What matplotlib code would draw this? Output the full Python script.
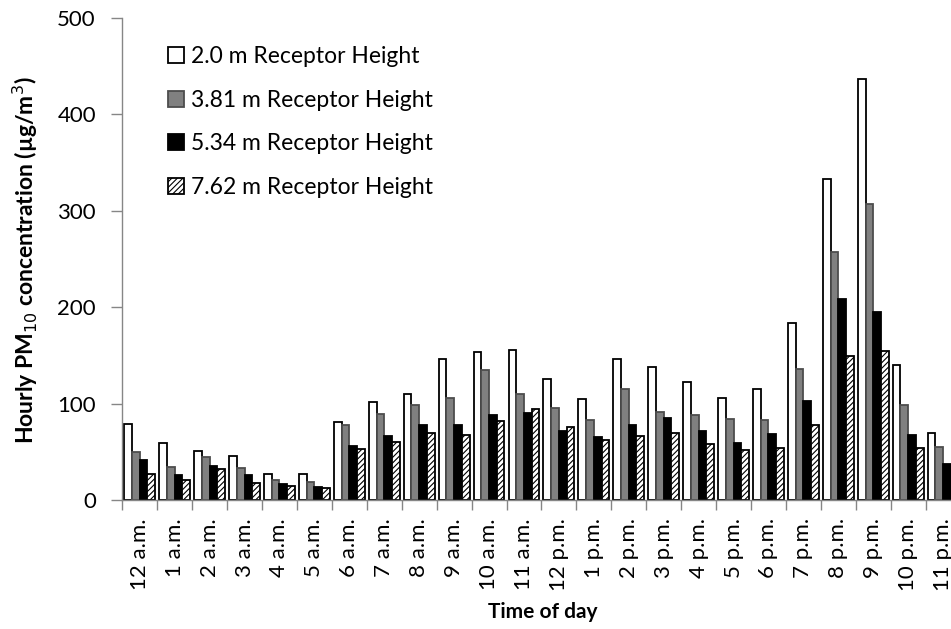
import numpy as np
import matplotlib.pyplot as plt

plt.rcParams['font.family'] = ['Lato', 'DejaVu Sans']
plt.rcParams['hatch.linewidth'] = 0.8

# hourly PM10 concentration (ug/m3) at each receptor height
hours = ["12 a.m.", "1 a.m.", "2 a.m.", "3 a.m.", "4 a.m.", "5 a.m.", "6 a.m.",
         "7 a.m.", "8 a.m.", "9 a.m.", "10 a.m.", "11 a.m.", "12 p.m.", "1 p.m.",
         "2 p.m.", "3 p.m.", "4 p.m.", "5 p.m.", "6 p.m.", "7 p.m.", "8 p.m.",
         "9 p.m.", "10 p.m.", "11 p.m."]
h_200 = [79, 59, 51, 46, 27, 27, 81, 102, 110, 146, 153, 156, 125, 105,
         146, 138, 122, 106, 115, 184, 333, 437, 140, 70]
h_381 = [50, 34, 45, 33, 21, 19, 78, 89, 99, 106, 135, 110, 95, 83,
         115, 91, 88, 84, 83, 136, 257, 307, 99, 55]
h_534 = [42, 26, 35, 26, 17, 13, 56, 66, 78, 78, 88, 90, 72, 65,
         78, 85, 72, 59, 68, 103, 208, 195, 67, 37]
h_762 = [27, 21, 32, 18, 15, 12, 53, 60, 70, 67, 82, 94, 76, 62,
         66, 69, 58, 52, 54, 78, 149, 155, 54, 30]

labels = ["2.0 m Receptor Height", "3.81 m Receptor Height",
          "5.34 m Receptor Height", "7.62 m Receptor Height"]

fig = plt.figure(figsize=(9.51, 6.29), dpi=100)
ax = fig.add_axes([0.1286, 0.2051, 0.8815, 0.7663])

x = np.arange(len(hours))
w = 0.221
styles = [
    dict(facecolor="white", edgecolor="black", hatch=None),
    dict(facecolor="#808080", edgecolor="#4d4d4d", hatch=None),
    dict(facecolor="black", edgecolor="black", hatch=None),
    dict(facecolor="white", edgecolor="black", hatch="//////"),
]
for k, (vals, lab, st) in enumerate(zip([h_200, h_381, h_534, h_762], labels, styles)):
    ax.bar(x + (k - 1.5) * w, vals, width=w, label=lab, linewidth=1.3, **st)

ax.set_xlim(-0.5, len(hours) - 0.5)
ax.set_ylim(0, 500)
ax.set_yticks(range(0, 501, 100))
ax.set_xticks(x)
ax.set_xticklabels(hours, rotation=90)
ax.set_xticks(np.arange(-0.5, len(hours), 1), minor=True)
ax.tick_params(axis="x", which="major", length=0, pad=13, labelsize=16)
ax.tick_params(axis="x", which="minor", length=7, color="#868686", width=1)
ax.tick_params(axis="y", length=8, color="#868686", width=1, pad=11, labelsize=16)

for side in ["top", "right"]:
    ax.spines[side].set_visible(False)
for side in ["left", "bottom"]:
    ax.spines[side].set_color("#868686")
    ax.spines[side].set_linewidth(1)

fig.text(0.027, 0.586, "Hourly PM$_{10}$ concentration (\u00b5g/m$^3$)",
         rotation=90, ha="center", va="center", fontsize=16.5, fontweight="bold")
fig.text(0.571, 0.027, "Time of day", ha="center", va="center",
         fontsize=15, fontweight="bold")

ax.legend(loc="upper left", bbox_to_anchor=(0.167, 0.942), bbox_transform=fig.transFigure,
          frameon=False, fontsize=16.5, handlelength=0.7, handleheight=0.7,
          handletextpad=0.3, labelspacing=1.0, borderaxespad=0)

fig.savefig("out.png", dpi=100)
